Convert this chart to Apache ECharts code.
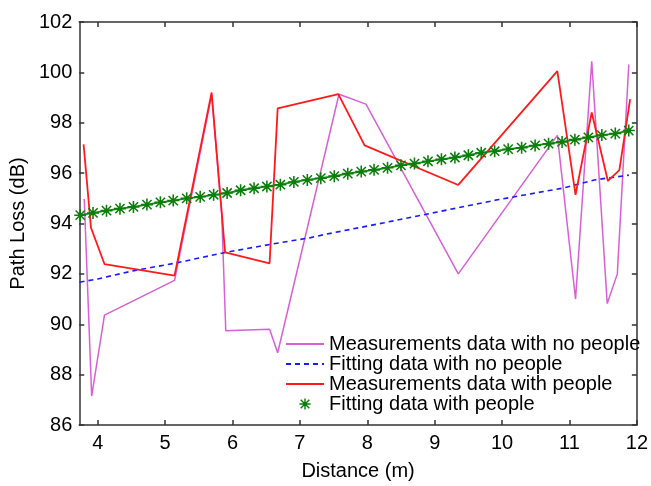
<!DOCTYPE html>
<html>
<head>
<meta charset="utf-8">
<script src="https://cdn.jsdelivr.net/npm/echarts@6/dist/echarts.min.js"></script>
<style>
html,body{margin:0;padding:0;background:#fff;}
#chart{width:651px;height:486px;}
</style>
</head>
<body>
<div id="chart"></div>
<script>
// ---- Data ----
const seriesNames = [
  'Measurements data with no people',
  'Fitting data with no people',
  'Measurements data with people',
  'Fitting data with people'
];

const noPeopleX = [3.80, 3.91, 4.10, 5.14, 5.69, 5.84, 5.90, 6.22, 6.55, 6.67, 7.58, 7.98, 9.35, 10.82, 11.09, 11.33, 11.56, 11.71, 11.88];
const noPeopleY = [94.97, 87.15, 90.36, 91.74, 99.10, 94.35, 89.74, 89.77, 89.80, 88.87, 99.13, 98.74, 92.00, 97.50, 91.00, 100.44, 90.82, 92.00, 100.31];

const fitNoPeopleX = [3.73, 4.00, 4.54, 5.14, 5.89, 6.56, 7.16, 7.38, 8.25, 9.21, 9.93, 10.89, 11.37, 11.88];
const fitNoPeopleY = [91.67, 91.80, 92.13, 92.42, 92.85, 93.17, 93.44, 93.57, 94.03, 94.55, 94.94, 95.40, 95.73, 95.92];

const peopleX = [3.79, 3.90, 4.10, 5.14, 5.69, 5.89, 6.55, 6.67, 7.57, 7.96, 9.35, 10.82, 11.09, 11.33, 11.57, 11.74, 11.90];
const peopleY = [97.14, 93.83, 92.39, 91.93, 99.20, 92.85, 92.42, 98.57, 99.14, 97.10, 95.53, 100.05, 95.14, 98.41, 95.69, 96.12, 98.94];

const fitPeopleX = [3.74, 3.93, 4.13, 4.33, 4.53, 4.73, 4.93, 5.12, 5.32, 5.52, 5.72, 5.92, 6.12, 6.32, 6.51, 6.71, 6.91, 7.11, 7.31, 7.51, 7.71, 7.91, 8.10, 8.30, 8.50, 8.70, 8.90, 9.10, 9.30, 9.50, 9.69, 9.89, 10.09, 10.29, 10.49, 10.69, 10.89, 11.08, 11.28, 11.48, 11.68, 11.88];
const fitPeopleY = [94.33, 94.42, 94.51, 94.59, 94.66, 94.75, 94.84, 94.91, 95.00, 95.06, 95.14, 95.21, 95.32, 95.40, 95.47, 95.54, 95.65, 95.73, 95.80, 95.88, 95.98, 96.06, 96.13, 96.21, 96.31, 96.38, 96.47, 96.55, 96.62, 96.71, 96.81, 96.87, 96.95, 97.01, 97.10, 97.17, 97.24, 97.33, 97.42, 97.51, 97.57, 97.69];

const xTickLabels = [4, 5, 6, 7, 8, 9, 10, 11, 12];
const yTickLabels = [86, 88, 90, 92, 94, 96, 98, 100, 102];

// ---- Chart ----
function pairs(xs, ys) { return xs.map((x, i) => [x, ys[i]]); }

const FONT = '"Liberation Sans", Arial, sans-serif';
const AXIS_COLOR = '#333333';
const asterisk = 'path://M8.7,0h2.6v20h-2.6z M0,8.7h20v2.6h-20z M3.2,1.4L18.6,16.8L16.8,18.6L1.4,3.2z M16.8,1.4L18.6,3.2L3.2,18.6L1.4,16.8z M6.5,6.5h7v7h-7z';

const xMin = 3.726, xMax = 12;
const yMin = yTickLabels[0], yMax = yTickLabels[yTickLabels.length - 1];

const axisLineStyle = { show: true, lineStyle: { color: AXIS_COLOR, width: 1.5 } };

const chart = echarts.init(document.getElementById('chart'), null, { renderer: 'canvas' });
chart.setOption({
  backgroundColor: '#ffffff',
  animation: false,
  textStyle: { fontFamily: FONT },
  grid: { left: 67, top: 22, width: 573, height: 407, containLabel: false },
  legend: {
    orient: 'vertical',
    left: 285,
    top: 334,
    padding: 0,
    itemWidth: 38,
    itemHeight: 14,
    itemGap: 0,
    textStyle: { fontSize: 20, color: '#000', fontFamily: FONT, lineHeight: 20 },
    data: [
      { name: seriesNames[0], itemStyle: { opacity: 0 } },
      { name: seriesNames[1], itemStyle: { opacity: 0 } },
      { name: seriesNames[2], itemStyle: { opacity: 0 } },
      { name: seriesNames[3], lineStyle: { opacity: 0 } }
    ],
    selectedMode: false
  },
  xAxis: [
    {
      type: 'value', position: 'bottom', min: xMin, max: xMax,
      name: 'Distance (m)', nameLocation: 'middle', nameGap: 36,
      nameTextStyle: { fontSize: 20, color: '#000', fontFamily: FONT },
      axisLine: axisLineStyle,
      axisTick: { show: true, inside: true, length: 5, customValues: xTickLabels, lineStyle: { color: AXIS_COLOR, width: 1.5 } },
      axisLabel: { show: true, customValues: xTickLabels, fontSize: 20, color: '#000', margin: 8, fontFamily: FONT },
      splitLine: { show: false }
    },
    {
      type: 'value', position: 'top', min: xMin, max: xMax,
      axisLine: axisLineStyle,
      axisTick: { show: true, inside: true, length: 5, customValues: xTickLabels, lineStyle: { color: AXIS_COLOR, width: 1.5 } },
      axisLabel: { show: false },
      splitLine: { show: false }
    }
  ],
  yAxis: [
    {
      type: 'value', position: 'left', min: yMin, max: yMax, interval: 2,
      name: 'Path Loss (dB)', nameLocation: 'middle', nameGap: 40,
      nameTextStyle: { fontSize: 20, color: '#000', fontFamily: FONT },
      axisLine: axisLineStyle,
      axisTick: { show: true, inside: true, length: 5, lineStyle: { color: AXIS_COLOR, width: 1.5 } },
      axisLabel: { show: true, fontSize: 20, color: '#000', margin: 7, fontFamily: FONT },
      splitLine: { show: false }
    },
    {
      type: 'value', position: 'right', min: yMin, max: yMax, interval: 2,
      axisLine: axisLineStyle,
      axisTick: { show: true, inside: true, length: 5, lineStyle: { color: AXIS_COLOR, width: 1.5 } },
      axisLabel: { show: false },
      splitLine: { show: false }
    }
  ],
  series: [
    {
      name: seriesNames[0], type: 'line', xAxisIndex: 0, yAxisIndex: 0,
      data: pairs(noPeopleX, noPeopleY), symbol: 'none',
      lineStyle: { color: '#d95fd9', width: 1.5 }, itemStyle: { color: '#d95fd9' }
    },
    {
      name: seriesNames[1], type: 'line', xAxisIndex: 0, yAxisIndex: 0,
      data: pairs(fitNoPeopleX, fitNoPeopleY), symbol: 'none',
      lineStyle: { color: '#1a1aff', width: 1.6, type: [5, 4] }, itemStyle: { color: '#1a1aff' }
    },
    {
      name: seriesNames[2], type: 'line', xAxisIndex: 0, yAxisIndex: 0,
      data: pairs(peopleX, peopleY), symbol: 'none',
      lineStyle: { color: '#ff1a1a', width: 1.8 }, itemStyle: { color: '#ff1a1a' }
    },
    {
      name: seriesNames[3], type: 'line', xAxisIndex: 0, yAxisIndex: 0,
      data: pairs(fitPeopleX, fitPeopleY), symbol: asterisk, symbolSize: 12,
      lineStyle: { color: '#138a13', width: 1.8 }, itemStyle: { color: '#0a7d0a' }
    }
  ]
});
</script>
</body>
</html>
